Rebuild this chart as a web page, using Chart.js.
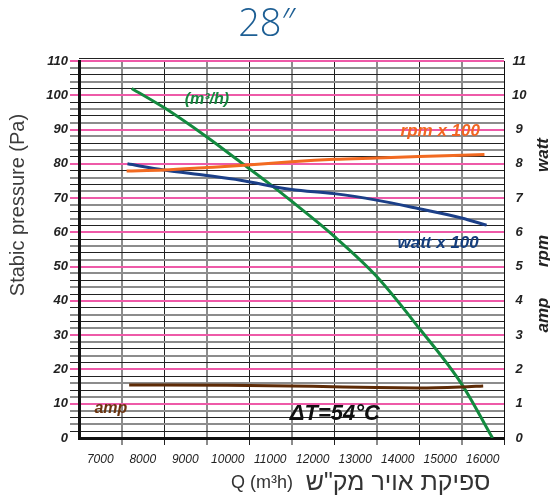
<!DOCTYPE html>
<html>
<head>
<meta charset="utf-8">
<script src="https://cdn.jsdelivr.net/npm/chart.js@4"></script>
<style>
  html, body { margin: 0; padding: 0; background: #fff; }
  #wrap { width: 550px; height: 497px; }
</style>
</head>
<body>
<div id="wrap"><canvas id="grafico" width="550" height="497"></canvas></div>
<script>
// pressure curve (Pa) vs air flow (m3/h)
const pressureQ = [7740, 8500, 9500, 10300, 11000, 11500, 12500, 13500, 14500, 15500, 16230];
const pressurePa = [102, 96.4, 87.9, 80.5, 74, 69.1, 58.9, 47.2, 32.1, 15.8, 0];

// watt x 100 (right axis)
const wattQ = [7640, 8500, 9500, 10300, 11500, 12500, 13500, 14500, 15500, 16090];
const watt = [8.0, 7.82, 7.66, 7.52, 7.25, 7.13, 6.94, 6.69, 6.42, 6.21];

// rpm x 100 (right axis)
const rpmQ = [7620, 8500, 9500, 10300, 11500, 12500, 13500, 14500, 16040];
const rpm = [7.79, 7.82, 7.89, 7.95, 8.06, 8.13, 8.17, 8.21, 8.27];

// amp (right axis)
const ampQ = [7680, 10000, 12000, 13500, 14500, 15500, 16010];
const amp = [1.55, 1.54, 1.51, 1.47, 1.46, 1.49, 1.52];

// axis ranges
const qMin = 6500, qMax = 16500;
const paMax = 110, rightMax = 11;

// labels inside the plot, placed in data units
const notas = [
    { text: "(m³/h)", q: 9510, pa: 98.6, color: "#16873f", size: 16 },
    { text: "rpm x 100", q: 15000, pa: 89.6, color: "#f26522", size: 17 },
    { text: "watt x 100", q: 14950, pa: 56.9, color: "#143d7c", size: 17 },
    { text: "amp", q: 7250, pa: 8.5, color: "#6b3410", size: 16 },
    { text: "ΔT=54°C", q: 12520, pa: 7.0, color: "#111", size: 22 },
];

const pts = (xs, ys) => xs.map((x, i) => ({ x, y: ys[i] }));
const FONTE = "'Liberation Sans', Arial, sans-serif";

const textos = {
    id: "textos",
    afterDraw(chart) {
        const c = chart.ctx;
        const x = chart.scales.x, y = chart.scales.y;
        const a = chart.chartArea;
        c.save();

        // borda de cima
        c.strokeStyle = "#222";
        c.lineWidth = 1;
        c.beginPath();
        c.moveTo(a.left, a.top - 2.5);
        c.lineTo(a.right, a.top - 2.5);
        c.stroke();

        c.textAlign = "center";
        c.textBaseline = "middle";

        // titulo
        c.fillStyle = "#1e5f94";
        c.font = "300 38px 'Open Sans', " + FONTE;
        c.fillText("28″", 267, 25);

        // eixo y esquerdo
        c.save();
        c.translate(18, 205);
        c.rotate(-Math.PI / 2);
        c.fillStyle = "#3c3c3c";
        c.font = "20px " + FONTE;
        c.fillText("Stabic pressure (Pa)", 0, 0);
        c.restore();

        // eixo direito
        [["watt", 155], ["rpm", 251], ["amp", 315]].forEach(([t, py]) => {
            c.save();
            c.translate(543, py);
            c.rotate(-Math.PI / 2);
            c.fillStyle = "#222";
            c.font = "italic bold 17px " + FONTE;
            c.fillText(t, 0, 0);
            c.restore();
        });

        // eixo x
        c.fillStyle = "#333";
        c.font = "18px " + FONTE;
        c.fillText("Q (m³h)", 262, 483);
        c.font = "25px " + FONTE;
        c.fillText("ספיקת אויר מק\"ש", 398, 483);

        // notas
        notas.forEach(n => {
            c.fillStyle = n.color;
            c.font = "italic bold " + n.size + "px " + FONTE;
            c.fillText(n.text, x.getPixelForValue(n.q), y.getPixelForValue(n.pa));
        });
        c.restore();
    }
};

const linha = (label, data, cor, eixo) => ({
    label, data, yAxisID: eixo,
    borderColor: cor, borderWidth: 3,
    pointRadius: 0, fill: false,
    cubicInterpolationMode: "monotone",
});

new Chart(document.getElementById("grafico"), {
    type: "line",
    data: {
        datasets: [
            linha("amp", pts(ampQ, amp), "#5e2b06", "y2"),
            linha("rpm", pts(rpmQ, rpm), "#f26a21", "y2"),
            linha("watt", pts(wattQ, watt), "#1b3f88", "y2"),
            linha("Pa", pts(pressureQ, pressurePa), "#138a3f", "y"),
        ],
    },
    options: {
        responsive: false,
        animation: false,
        events: [],
        layout: { padding: { top: 61, left: 0, right: 0, bottom: 0 } },
        plugins: { legend: { display: false }, tooltip: { enabled: false } },
        scales: {
            x: {
                type: "linear",
                min: qMin, max: qMax,
                afterFit: s => { s.height = 59; },
                border: { color: "#111", width: 3 },
                grid: {
                    tickLength: 7,
                    color: ctx => {
                        const v = ctx.tick.value;
                        if (v % 1000 === 0 || v === qMin) return "rgba(0,0,0,0)";
                        return ((v - 7500) / 1000) % 2 === 0 ? "#8c8c8c" : "#222";
                    },
                    lineWidth: ctx => (((ctx.tick.value - 7500) / 1000) % 2 === 0 ? 2 : 1),
                },
                ticks: {
                    stepSize: 500, autoSkip: false, maxRotation: 0, padding: 7,
                    color: "#222",
                    font: { family: FONTE, size: 12, style: "italic" },
                    callback: v => (v % 1000 === 0 ? String(v) : ""),
                },
            },
            y: {
                position: "left",
                min: 0, max: paMax,
                afterFit: s => { s.width = 79; },
                border: { color: "#111", width: 3 },
                grid: {
                    tickLength: 9,
                    color: ctx => {
                        const v = ctx.tick.value;
                        if (v === 0) return "rgba(0,0,0,0)";
                        if (v % 10 === 0) return "#ee5aa8";
                        return v % 4 === 0 ? "#8c8c8c" : "#222";
                    },
                    lineWidth: ctx => {
                        const v = ctx.tick.value;
                        if (v % 10 === 0) return 2;
                        return v % 4 === 0 ? 2 : 1;
                    },
                },
                ticks: {
                    stepSize: 2, autoSkip: false, padding: 2,
                    color: "#222",
                    font: { family: FONTE, size: 13, style: "italic", weight: "bold" },
                    callback: v => (v % 10 === 0 ? String(v) : ""),
                },
            },
            y2: {
                position: "right",
                min: 0, max: rightMax,
                afterFit: s => { s.width = 46; },
                border: { color: "#111", width: 1 },
                grid: { drawOnChartArea: false, drawTicks: false },
                ticks: {
                    stepSize: 1, autoSkip: false, padding: 8, crossAlign: "center",
                    color: "#222",
                    font: { family: FONTE, size: 13, style: "italic", weight: "bold" },
                },
            },
        },
    },
    plugins: [textos],
});
</script>
</body>
</html>
